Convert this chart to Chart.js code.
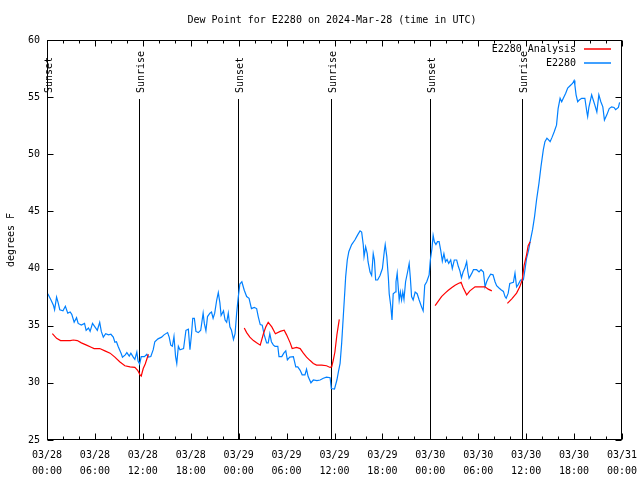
<!DOCTYPE html>
<html>
<head>
<meta charset="utf-8">
<script src="https://cdn.jsdelivr.net/npm/chart.js@4"></script>
<style>
  body { margin: 0; background: #fff; }
  #wrap { width: 640px; height: 480px; }
</style>
</head>
<body>
<div id="wrap"><canvas id="dew-chart" width="640" height="480"></canvas></div>
<script>
// hours since 03/28 00:00 UTC
const obsHours = [0.1,0.5,0.8,0.95,1.2,1.4,1.6,2.0,2.3,2.6,2.9,3.1,3.4,3.7,3.9,4.3,4.7,4.9,5.2,5.4,5.7,6.0,6.3,6.6,6.8,7.05,7.35,7.7,8.0,8.3,8.5,8.7,8.9,9.3,9.45,9.8,10.0,10.3,10.5,10.8,11.0,11.25,11.4,11.6,11.8,12.2,12.5,12.7,13.0,13.3,13.5,13.9,14.35,14.65,15.1,15.3,15.5,15.7,15.9,16.1,16.25,16.45,16.65,17.1,17.4,17.7,17.9,18.1,18.25,18.45,18.65,18.95,19.25,19.55,19.7,19.9,20.1,20.4,20.6,20.8,21.0,21.25,21.45,21.65,21.8,22.1,22.3,22.5,22.7,22.9,23.1,23.35,23.55,23.75,23.95,24.15,24.4,24.7,25.0,25.3,25.6,25.95,26.25,26.45,26.7,26.95,27.2,27.5,27.7,27.9,28.1,28.35,28.55,28.9,29.05,29.4,29.65,29.9,30.1,30.4,30.85,31.15,31.4,31.7,31.95,32.3,32.5,32.7,33.05,33.35,33.8,34.2,34.6,35.0,35.45,35.6,36.0,36.3,36.5,36.7,36.9,37.1,37.3,37.4,37.6,37.8,38.15,38.55,38.9,39.2,39.4,39.6,39.7,39.9,40.1,40.2,40.45,40.65,40.85,41.0,41.15,41.4,41.7,42.0,42.25,42.35,42.55,42.75,42.85,43.05,43.2,43.35,43.6,43.7,43.85,44.1,44.25,44.4,44.55,44.7,44.9,45.15,45.35,45.5,45.65,45.85,46.1,46.35,46.6,46.9,47.1,47.3,47.55,47.85,48.0,48.2,48.35,48.5,48.7,48.9,49.1,49.3,49.5,49.7,49.9,50.1,50.3,50.55,50.75,51.0,51.3,51.5,51.7,51.9,52.1,52.3,52.55,52.7,52.85,53.2,53.4,53.8,54.1,54.35,54.65,54.85,55.05,55.25,55.55,55.85,56.1,56.3,56.6,56.85,57.15,57.35,57.5,57.75,57.95,58.4,58.6,58.8,59.0,59.3,59.65,59.85,60.05,60.3,60.5,60.8,61.05,61.3,61.6,61.85,62.15,62.35,62.6,62.75,63.0,63.25,63.5,63.8,64.0,64.25,64.45,64.65,64.95,65.2,65.5,65.8,66.0,66.1,66.25,66.45,66.65,66.95,67.35,67.6,67.7,67.85,68.2,68.4,68.6,68.85,69.1,69.35,69.6,69.8,70.1,70.4,70.7,71.0,71.2,71.55,71.7]
const obsDew = [37.8,37.25,36.8,36.4,37.5,37.0,36.4,36.3,36.7,36.1,36.2,36.0,35.3,35.7,35.2,35.05,35.2,34.6,34.8,34.5,35.2,34.9,34.6,35.3,34.5,34.0,34.3,34.2,34.25,34.0,33.55,33.6,33.2,32.55,32.25,32.45,32.65,32.35,32.6,32.25,32.05,32.7,31.9,31.65,32.3,32.3,32.5,32.25,32.3,32.9,33.6,33.85,34.0,34.2,34.4,34.0,33.3,33.2,34.05,32.3,31.7,33.2,32.9,33.0,34.6,34.7,32.9,34.3,35.65,35.65,34.5,34.4,34.6,36.1,35.2,34.55,35.8,36.1,36.2,35.65,36.1,37.25,37.9,37.0,35.9,36.3,35.5,35.3,36.1,34.9,34.6,33.8,34.3,36.1,37.5,38.65,38.85,38.1,37.55,37.4,36.5,36.6,36.5,35.8,35.1,35.05,34.2,33.5,33.5,34.3,33.6,33.3,33.2,33.2,32.3,32.3,32.6,32.8,32.0,32.25,32.3,31.4,31.4,31.1,30.7,30.7,31.2,30.55,30.0,30.25,30.2,30.25,30.4,30.5,30.45,29.5,29.45,30.25,31.0,31.7,33.5,35.8,38.1,39.3,40.75,41.5,42.1,42.5,42.95,43.3,43.2,42.1,41.05,41.9,41.3,40.6,39.7,39.4,41.3,40.75,39.0,39.0,39.4,40.0,41.6,42.1,41.05,39.15,37.8,36.7,35.5,37.8,37.95,38.85,39.6,37.25,37.95,37.25,37.95,37.3,38.85,39.7,40.45,39.15,37.55,37.25,37.95,37.8,37.25,36.65,36.3,38.55,38.85,39.45,40.75,41.75,42.9,42.35,42.1,42.35,42.35,41.6,40.65,41.3,40.6,40.8,40.45,40.75,40.0,40.75,40.75,40.2,39.8,39.2,39.7,40.0,40.6,39.7,39.15,39.6,39.9,39.9,39.7,39.9,39.7,38.4,38.85,39.15,39.5,39.45,38.85,38.5,38.3,38.15,38.0,37.55,37.4,37.85,38.7,38.8,39.6,38.4,38.6,39.0,39.0,39.9,40.9,41.6,42.35,43.4,44.55,46.0,47.45,48.9,50.4,51.1,51.4,51.3,51.1,51.5,51.95,52.55,54.0,54.9,54.6,54.9,55.35,55.8,56.0,56.2,56.45,56.05,55.2,54.6,54.75,54.9,54.9,53.7,53.3,54.1,55.2,54.75,54.3,53.7,55.2,54.6,54.15,53.0,53.45,54.0,54.15,54.1,53.9,54.1,54.55]

// analysis series, null = gap
const anaHours = [0.67,1.2,1.7,2.9,3.3,3.8,4.3,4.95,5.6,5.9,6.6,7.25,7.9,8.5,9.1,9.75,10.4,11.0,11.35,11.65,11.8,12.05,12.3,12.7,18,
  24.7,25.0,25.4,25.85,26.25,26.7,27.1,27.4,27.7,28.15,28.6,29.2,29.7,30.0,30.45,30.7,31.25,31.7,32.1,32.5,32.95,33.35,33.75,34.4,35.0,35.45,35.65,35.85,36.05,36.3,36.6,42,
  48.6,49.0,49.4,49.85,50.25,50.7,51.1,51.5,51.85,52.1,52.55,52.95,53.6,54.2,54.85,55.25,55.7,56.5,
  57.65,58.2,58.8,59.2,59.5,59.75,60.05,60.25,60.5]
const anaDew = [34.3,33.9,33.7,33.7,33.75,33.7,33.5,33.3,33.1,33.0,33.0,32.8,32.6,32.25,31.85,31.5,31.4,31.35,31.1,30.7,30.6,31.25,31.65,32.5,null,
  34.8,34.4,34.0,33.7,33.5,33.3,34.3,34.9,35.3,34.9,34.3,34.5,34.6,34.2,33.5,33.0,33.1,33.0,32.6,32.25,31.95,31.7,31.55,31.55,31.5,31.35,31.4,32.0,32.7,34.2,35.55,null,
  36.75,37.15,37.55,37.85,38.1,38.35,38.55,38.7,38.8,38.35,37.7,38.05,38.4,38.4,38.4,38.2,38.05,null,
  36.95,37.35,37.85,38.4,39.0,40.3,41.2,42.0,42.35]

const sunHours = [0.0, 11.5, 23.9, 35.5, 47.9, 59.45]
const sunLabels = ['Sunset', 'Sunrise', 'Sunset', 'Sunrise', 'Sunset', 'Sunrise']

const tickDates = ['03/28','03/28','03/28','03/28','03/29','03/29','03/29','03/29','03/30','03/30','03/30','03/30','03/31']
const tickTimes = ['00:00','06:00','12:00','18:00','00:00','06:00','12:00','18:00','00:00','06:00','12:00','18:00','00:00']

const COLORS = {
  obs: "#0080ff",
  ana: "#ff0000",
  ink: "#000000"
}
const FONT = "10px 'DejaVu Sans Mono'"

const toPoints = (xs, ys) => xs.map((x, i) => ({ x: x, y: ys[i] }))

// gnuplot-ish frame: inward ticks, sunrise/sunset markers, legend, titles
const framePlugin = {
  id: "frame",
  beforeDatasetsDraw(chart) {
    const ctx = chart.ctx
    const xs = chart.scales.x
    const area = chart.chartArea
    ctx.save()
    ctx.font = FONT
    ctx.fillStyle = COLORS.ink
    ctx.strokeStyle = COLORS.ink
    ctx.lineWidth = 1
    sunHours.forEach((h, i) => {
      const px = Math.round(xs.getPixelForValue(h)) + 0.5
      ctx.beginPath()
      ctx.moveTo(px, 99)
      ctx.lineTo(px, area.bottom)
      ctx.stroke()
      ctx.save()
      ctx.translate(px + 4, 93)
      ctx.rotate(-Math.PI / 2)
      ctx.textAlign = "left"
      ctx.fillText(sunLabels[i], 0, 0)
      ctx.restore()
    })
    ctx.restore()
  },
  afterDraw(chart) {
    const ctx = chart.ctx
    const xs = chart.scales.x
    const ys = chart.scales.y
    const a = chart.chartArea
    ctx.save()
    ctx.strokeStyle = COLORS.ink
    ctx.lineWidth = 1
    const L = a.left + 0.5, R = a.right - 0.5, T = a.top + 0.5, B = a.bottom - 0.5
    ctx.strokeRect(L, T, R - L, B - T)
    ctx.beginPath()
    for (let h = 0; h <= 72; h += 2) {
      const px = Math.round(xs.getPixelForValue(h)) + 0.5
      const len = h % 6 === 0 ? 6 : 3
      ctx.moveTo(px, B); ctx.lineTo(px, B - len)
      ctx.moveTo(px, T); ctx.lineTo(px, T + len)
    }
    for (let v = 25; v <= 60; v += 5) {
      const py = Math.round(ys.getPixelForValue(v)) + 0.5
      ctx.moveTo(L, py); ctx.lineTo(L + 6, py)
      ctx.moveTo(R, py); ctx.lineTo(R - 6, py)
    }
    ctx.stroke()

    ctx.font = FONT
    ctx.fillStyle = COLORS.ink
    ctx.textBaseline = "middle"
    ctx.textAlign = "center"
    ctx.fillText("Dew Point for E2280 on 2024-Mar-28 (time in UTC)", 332, 20)

    ctx.save()
    ctx.translate(11, 240)
    ctx.rotate(-Math.PI / 2)
    ctx.fillText("degrees F", 0, 0)
    ctx.restore()

    // legend
    const rows = [["E2280 Analysis", COLORS.ana, 49], ["E2280", COLORS.obs, 63]]
    ctx.textAlign = "right"
    ctx.lineWidth = 1.5
    rows.forEach(r => {
      ctx.fillStyle = COLORS.ink
      ctx.fillText(r[0], 576, r[2])
      ctx.strokeStyle = r[1]
      ctx.beginPath()
      ctx.moveTo(584, r[2])
      ctx.lineTo(611, r[2])
      ctx.stroke()
    })
    ctx.restore()
  }
}

Chart.defaults.font.family = "'DejaVu Sans Mono'"
Chart.defaults.font.size = 10
Chart.defaults.color = COLORS.ink

const ctx = document.getElementById("dew-chart")
new Chart(ctx, {
  type: "line",
  data: {
    datasets: [
      {
        label: "E2280 Analysis",
        data: toPoints(anaHours, anaDew),
        borderColor: COLORS.ana,
        borderWidth: 1.2,
        pointRadius: 0,
        tension: 0,
        spanGaps: false
      },
      {
        label: "E2280",
        data: toPoints(obsHours, obsDew),
        borderColor: COLORS.obs,
        borderWidth: 1.2,
        pointRadius: 0,
        tension: 0
      }
    ]
  },
  options: {
    responsive: false,
    animation: false,
    devicePixelRatio: 1,
    layout: { padding: { top: 40, right: 18, bottom: 0, left: 0 } },
    plugins: {
      legend: { display: false },
      title: { display: false },
      tooltip: { enabled: false }
    },
    scales: {
      x: {
        type: "linear",
        min: 0,
        max: 72,
        afterFit: s => {
          s.height = 40
          s.paddingLeft = 0
          s.paddingRight = 0
        },
        grid: { display: false, drawTicks: false },
        border: { display: false },
        ticks: {
          stepSize: 6,
          autoSkip: false,
          maxRotation: 0,
          padding: 7,
          font: { size: 10, lineHeight: 1.6 },
          callback: (v) => {
            const i = Math.round(v / 6)
            return [tickDates[i], tickTimes[i]]
          }
        }
      },
      y: {
        min: 25,
        max: 60,
        afterFit: s => {
          s.width = 47
          s.paddingTop = 0
          s.paddingBottom = 0
        },
        grid: { display: false, drawTicks: false },
        border: { display: false },
        ticks: { stepSize: 5, padding: 7 }
      }
    }
  },
  plugins: [framePlugin]
})
</script>
</body>
</html>
